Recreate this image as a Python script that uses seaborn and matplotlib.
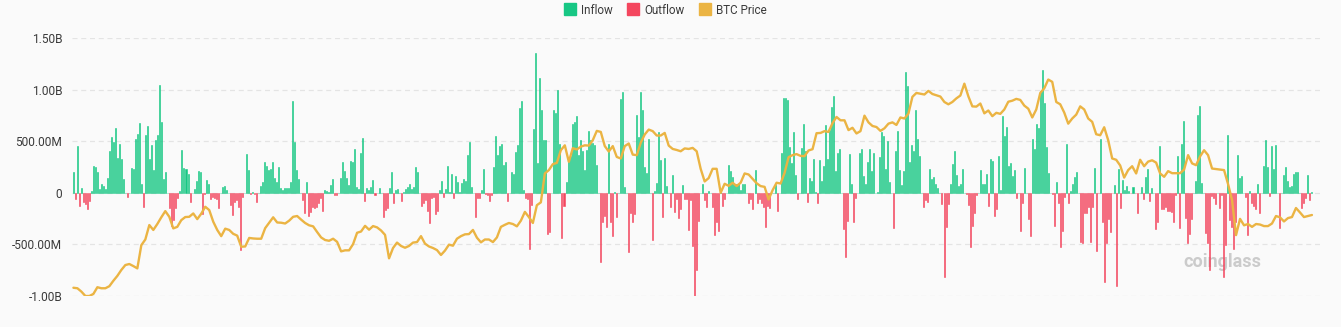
import numpy as np
import pandas as pd
import matplotlib
matplotlib.use("Agg")
import matplotlib.pyplot as plt
from matplotlib.lines import Line2D
from matplotlib.ticker import FixedLocator, FuncFormatter
import seaborn as sns

# Daily net flow (USD millions): positive = inflow, negative = outflow
flow_seg1 = [200, -58, 450, -126, 42, -87, -110, -158, -81, 16, 258, 248, 197, 36, 84, 68, 36, 145,
             403, 539, 490, 632, 339, 477, 326, 132, 0, -39, 0, 245, 232, 519, 574, 674, 90, -142,
             561, 645, 332, 468, 219, 516, 560, 1042, 684, 132, 197, 0, -152, -319, -265, -152, -55,
             16, 419, 245, 235]
flow_seg2 = [181, -87, 0, 36, 113, 210, 200, -206, -16, 123, 90, -58, -42, -50, -61, -152, 0, 58, 68,
             26, 0, -123, -216, -87, -65, -142, -558, -39, 0, 374, 219, -16, 10, -13, -87, 0, 65, 100,
             303, 258, 219, 235, 303, 139, 103, 248, 42, 26, 45, 45, 45, 106, 887, 490, 219, 132, 0,
             -65, -200, 100, -226, -187, -135]
flow_seg3 = [-152, -135, -103, -55, -174, 26, 19, 10, 71, 129, -19, -19, 0, 145, 294, 216, 145, 74,
             306, 297, 423, 55, 36, 381, 529, -77, 45, 26, 52, 123, -19, 0, 48, 0, -239, -168, -152,
             48, 200, -94, 26, 32, 0, -84, 6, 36, 58, 84, 36, 58, 248, 197, 0, -126, -103, -71, -174,
             -290, -48, -39, -210]
flow_seg4 = [-174, 26, 110, -45, 36, 258, 10, 184, -55, 161, 100, 6, 94, 132, 113, 365, 490, 61, 0,
             -239, -55, -55, 26, 232, -16, -26, -77, -26, 248, 552, 371, 452, 474, 271, 294, -77, 0,
             197, 187, 400, 468, 826, 894, 29, -55, -61, -542, -119, 619, 1355, 290, 1116, 800, 510,
             516, -403, -377, 0, 806, 774, 1000, 477]
flow_seg5 = [-435, -126, 100, 316, 355, 671, 684, 745, 371, 510, 403, 219, 413, 597, 510, 484, 468,
             268, 0, -674, -281, -223, -335, 471, -287, -416, 10, -239, 0, 906, 977, 55, 0, -571, -194,
             -287, -210, 752, 542, 977, 800, 252, 194, 519, 0, -458, 16, 97, 590, 316, -232, 339, 68,
             0, -142, 171, -184, -58, -248, -155, 71]
flow_seg6 = [-58, -61, -361, -65, -516, -1006, -748, -274, 0, 90, -71, -135, 19, 0, -135, -406, -281,
             -371, 10, -129, -58, 0, 274, 210, 155, 90, 84, 81, 26, 84, 84, 0, -97, -58, -158, 219,
             -97, -58, -103, -142, -329, -126, -145, 0, 0, 71, -174, 0, 381, 916, 916, 897, 445, 290,
             587, 171, -58, 0, 435, 671, 403, -87, 139]
flow_seg7 = [113, 323, 10, -94, 316, 113, 258, 661, 326, 606, 832, 935, 210, 381, 429, 0, -352, -619,
             -274, 374, 84, -281, -48, 0, 381, 429, 165, 84, 300, 429, 216, 387, 0, 6, 348, 587, 548,
             226, 500, 100, 0, -345, 406, 600, 219, 74, 213, 1171, 1032, 294, 461, 403, 800, 519, 361,
             0, -135, -71, -87, 229, 129, 155]
flow_seg8 = [81, 42, 0, -113, -813, -329, -110, 90, 277, 403, 177, 65, 84, 229, 0, -16, -123, -523,
             -319, -194, -26, 0, 219, 84, 81, 181, -126, 332, 306, -226, -161, 361, 26, 742, 548, 639,
             258, 284, 161, 219, -48, 0, -368, -103, 239, 0, -255, -419, 523, 429, 671, 629, 984, 1187,
             874, 445, 194, 0, -13, -323, 103, -103]
flow_seg9 = [-529, -368, -39, 477, -103, 16, 84, 155, 203, 0, -474, -490, -194, -194, -135, -481, -135,
             242, -561, -6, 519, -281, -861, -490, -255, -377, -6, 74, -903, 235, -152, 123, 23, 68,
             19, -6, 52, -6, -194, 0, 58, -61, 155, 226, -77, 48, 0, -355, -281, 458, -161, -158, -135,
             -177, -174, -190, -281, -23, 355, -345, 474, 694]
flow_seg10 = [-248, -490, -400, -255, 0, 113, 752, 839, 97, 0, -394, -484, -748, -32, -55, -110, 0,
              -152, -23, -819, -506, 558, -265, -329, -545, -281, 371, 145, 165, 0, -39, -410, 16,
              -103, -126, -161, 84, -200, 0, 258, 510, 252, -29, 458, 226, 461, 0, -345, 0, 168, 252,
              116, 58, 65, 187, 200, 200, 0, -152, -94, -48, 168, -71, 6]

# BTC price (USD), one reading every second day
price_seg1 = [43200, 43000, 41700, 40000, 40000, 40800, 43400, 43000, 43000, 43800, 45900, 47800,
              50100, 52000, 52400, 51600, 50700, 59700, 61900, 67500, 65600, 67900, 70500, 72900,
              70700, 66200, 66800, 69400, 70600, 70700]
price_seg2 = [72000, 69800, 71900, 74600, 73300, 68800, 65600, 63200, 66100, 65600, 64100, 63400,
              59100, 59200, 62500, 62300, 62200, 62200, 66300, 68400, 70500, 68500, 68400, 68100,
              69200, 70700, 71000, 69600, 68300, 67400, 67000]
price_seg3 = [64800, 62700, 61700, 61400, 62200, 61000, 57300, 57700, 57700, 60100, 64500, 65000,
              67200, 65700, 67100, 66600, 65400, 63700, 54600, 58600, 60700, 59400, 58700, 59400,
              60700, 60900, 63200, 60300, 59200, 58600, 57800]
price_seg4 = [55900, 57600, 59900, 59500, 62200, 63200, 63900, 64000, 65600, 62600, 60800, 61900,
              61900, 60900, 62700, 66800, 67600, 68300, 67900, 67000, 69200, 72600, 70600, 68300,
              75200, 76300, 87500, 88800, 91100, 91600, 96500]
price_seg5 = [98400, 92000, 97300, 96800, 97900, 98400, 98300, 100400, 104000, 103600, 98100, 96000,
              98100, 93900, 93300, 98100, 99100, 94800, 94600, 99400, 102600, 104500, 103900, 102200,
              102200, 103200, 98300, 97000, 96600, 96100, 97200, 97000]
price_seg6 = [97400, 96100, 89300, 84400, 85700, 89300, 89300, 80000, 83500, 82700, 83900, 82600,
              83900, 87500, 87100, 85400, 83700, 82600, 82300, 77400, 81000, 83900, 83600, 87700,
              93800, 94600, 95000, 94300, 94200, 96400, 96900]
price_seg7 = [103100, 103200, 103900, 103600, 107000, 109400, 108100, 108100, 104300, 105200, 103000,
              103900, 109900, 107300, 105900, 105500, 104000, 105000, 106800, 107300, 106300, 109200,
              108800, 110700, 117200, 118700, 118400, 118100, 119500, 118300, 117800]
price_seg8 = [117300, 115200, 114300, 115200, 116600, 117700, 122300, 117400, 113500, 113400, 114600,
              110800, 111900, 109700, 111000, 110600, 112300, 115300, 115700, 116400, 116000, 113800,
              112600, 109200, 112300, 118700, 120500, 123900, 123000, 115200, 114300]
price_seg9 = [111100, 106800, 108800, 110300, 113500, 112300, 108800, 107500, 102700, 102300, 105400,
              100400, 93300, 92800, 90600, 85900, 88800, 90300, 87500, 92800, 90300, 92100, 92600,
              91700, 87500, 86200, 88400, 87600, 87600, 87600, 89000, 94600]
price_seg10 = [91400, 90700, 94100, 96500, 94600, 89400, 89200, 89000, 88800, 83400, 77200, 63600,
               69900, 67400, 67900, 66800, 67900, 67700, 67100, 67100, 68100, 71000, 70500, 68900,
               70200, 70600, 74100, 72400, 70600, 71000, 71400]

ytick_values = [-1000, -500, 0, 500, 1000, 1500]
ytick_labels = ["-1.00B", "-500.00M", "0", "500.00M", "1.00B", "1.50B"]
legend_labels = ["Inflow", "Outflow", "BTC Price"]

GREEN = "#17c784"
RED = "#f4465e"
GOLD = "#ebb443"
TEXT = "#3a3a3a"
BG = "#fafafa"

flows = np.array(flow_seg1 + flow_seg2 + flow_seg3 + flow_seg4 + flow_seg5 +
                 flow_seg6 + flow_seg7 + flow_seg8 + flow_seg9 + flow_seg10, dtype=float)
prices = np.array(price_seg1 + price_seg2 + price_seg3 + price_seg4 + price_seg5 +
                  price_seg6 + price_seg7 + price_seg8 + price_seg9 + price_seg10, dtype=float)

n = len(flows)
df = pd.DataFrame({"day": np.arange(n), "flow": flows})
price_df = pd.DataFrame({"day": np.linspace(0, n - 1, len(prices)), "price": prices})

sns.set_style("white")
plt.rcParams["font.family"] = ["Roboto", "DejaVu Sans"]

fig = plt.figure(figsize=(13.41, 3.27), dpi=100, facecolor=BG)
ax = fig.add_axes([72 / 1341, 1 - 296 / 327, (1322 - 72) / 1341, (296 - 38) / 327])
ax.set_facecolor(BG)

# dashed horizontal grid
for v in ytick_values:
    ax.axhline(v, color="#e4e4e4", lw=0.9, ls=(0, (4, 3)), zorder=0)

sns.barplot(data=df, x="day", y="flow", native_scale=True, width=0.5, color=GREEN,
            saturation=1, errorbar=None, ax=ax, zorder=2)
# colour each bar by the sign of its flow; outline in the same colour keeps thin bars solid
for p in ax.patches:
    c = GREEN if p.get_height() >= 0 else RED
    p.set_facecolor(c)
    p.set_edgecolor(c)
    p.set_linewidth(0.4)

ax.set_xlim(-0.7, n + 4)
ax.set_ylim(-1000, 1500)
ax.yaxis.set_major_locator(FixedLocator(ytick_values))
lab = dict(zip(ytick_values, ytick_labels))
ax.yaxis.set_major_formatter(FuncFormatter(lambda v, _: lab.get(int(round(v)), "")))
ax.tick_params(axis="y", length=0, pad=7, labelsize=8.6, labelcolor=TEXT)
ax.set_xticks([])
ax.set_xlabel("")
ax.set_ylabel("")
for s in ax.spines.values():
    s.set_visible(False)

# BTC price on a hidden secondary axis
ax2 = ax.twinx()
sns.lineplot(data=price_df, x="day", y="price", color=GOLD, lw=1.7, ax=ax2, zorder=3)
ax2.set_ylim(40000, 140000)
ax2.set_yticks([])
ax2.set_xlabel("")
ax2.set_ylabel("")
for s in ax2.spines.values():
    s.set_visible(False)

# watermark
ax.text(0.889, 0.13, "coinglass", transform=ax.transAxes, fontsize=13, fontweight="bold",
        color="#cbcbcb", ha="left", va="center", zorder=1)

handles = [
    Line2D([], [], marker="s", ls="none", markersize=8, markerfacecolor=GREEN, markeredgecolor=GREEN),
    Line2D([], [], marker="s", ls="none", markersize=8, markerfacecolor=RED, markeredgecolor=RED),
    Line2D([], [], marker="s", ls="none", markersize=8, markerfacecolor=GOLD, markeredgecolor=GOLD),
]
fig.legend(handles, legend_labels, loc="center", bbox_to_anchor=(0.4965, 1 - 10 / 327), ncol=3,
           frameon=False, fontsize=8.4, handlelength=0.9, handletextpad=0.5, columnspacing=1.3,
           labelcolor=TEXT)

fig.savefig("out.png", dpi=100, facecolor=BG)
